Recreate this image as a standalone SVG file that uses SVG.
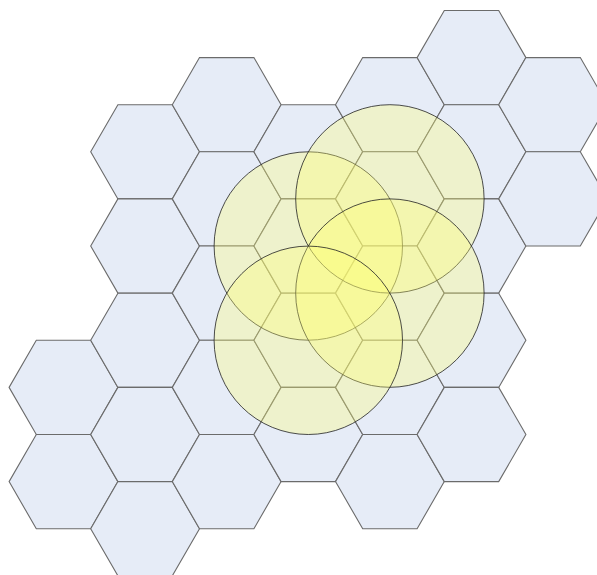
<svg xmlns="http://www.w3.org/2000/svg" xmlns:xlink="http://www.w3.org/1999/xlink" width="597" height="575" viewBox="0 0 597 575">
<style>
.hex{fill:#e6ecf7;stroke:#6b6b6b;stroke-width:1.1}
.cov{fill:#ffff74;fill-opacity:0.32;stroke:#222;stroke-opacity:0.8;stroke-width:1}
</style>
<defs>
<polygon id="h" points="-54.4,0 -27.2,-47.11 27.2,-47.11 54.4,0 27.2,47.11 -27.2,47.11"/>
</defs>
<rect width="597" height="575" fill="#ffffff"/>
<g id="cells">
<g id="c0r3"><use xlink:href="#h" class="hex" x="63.5" y="387.4"/></g>
<g id="c0r4"><use xlink:href="#h" class="hex" x="63.5" y="481.6"/></g>
<g id="c1r1"><use xlink:href="#h" class="hex" x="145.1" y="151.8"/></g>
<g id="c1r2"><use xlink:href="#h" class="hex" x="145.1" y="246.0"/></g>
<g id="c1r3"><use xlink:href="#h" class="hex" x="145.1" y="340.3"/></g>
<g id="c1r4"><use xlink:href="#h" class="hex" x="145.1" y="434.5"/></g>
<g id="c1r5"><use xlink:href="#h" class="hex" x="145.1" y="528.7"/></g>
<g id="c2r1"><use xlink:href="#h" class="hex" x="226.7" y="104.7"/></g>
<g id="c2r2"><use xlink:href="#h" class="hex" x="226.7" y="198.9"/></g>
<g id="c2r3"><use xlink:href="#h" class="hex" x="226.7" y="293.1"/></g>
<g id="c2r4"><use xlink:href="#h" class="hex" x="226.7" y="387.4"/></g>
<g id="c2r5"><use xlink:href="#h" class="hex" x="226.7" y="481.6"/></g>
<g id="c3r1"><use xlink:href="#h" class="hex" x="308.3" y="151.8"/></g>
<g id="c3r2"><use xlink:href="#h" class="hex" x="308.3" y="246.0"/></g>
<g id="c3r3"><use xlink:href="#h" class="hex" x="308.3" y="340.3"/></g>
<g id="c3r4"><use xlink:href="#h" class="hex" x="308.3" y="434.5"/></g>
<g id="c4r1"><use xlink:href="#h" class="hex" x="389.9" y="104.7"/></g>
<g id="c4r2"><use xlink:href="#h" class="hex" x="389.9" y="198.9"/></g>
<g id="c4r3"><use xlink:href="#h" class="hex" x="389.9" y="293.1"/></g>
<g id="c4r4"><use xlink:href="#h" class="hex" x="389.9" y="387.4"/></g>
<g id="c4r5"><use xlink:href="#h" class="hex" x="389.9" y="481.6"/></g>
<g id="c5r0"><use xlink:href="#h" class="hex" x="471.5" y="57.6"/></g>
<g id="c5r1"><use xlink:href="#h" class="hex" x="471.5" y="151.8"/></g>
<g id="c5r2"><use xlink:href="#h" class="hex" x="471.5" y="246.0"/></g>
<g id="c5r3"><use xlink:href="#h" class="hex" x="471.5" y="340.3"/></g>
<g id="c5r4"><use xlink:href="#h" class="hex" x="471.5" y="434.5"/></g>
<g id="c6r1"><use xlink:href="#h" class="hex" x="553.1" y="104.7"/></g>
<g id="c6r2"><use xlink:href="#h" class="hex" x="553.1" y="198.9"/></g>
</g>
<g id="coverage">
<g id="circleA"><circle class="cov" cx="308.3" cy="246.0" r="94.2"/></g>
<g id="circleB"><circle class="cov" cx="389.9" cy="198.9" r="94.2"/></g>
<g id="circleC"><circle class="cov" cx="389.9" cy="293.1" r="94.2"/></g>
<g id="circleD"><circle class="cov" cx="308.3" cy="340.3" r="94.2"/></g>
</g>
</svg>
